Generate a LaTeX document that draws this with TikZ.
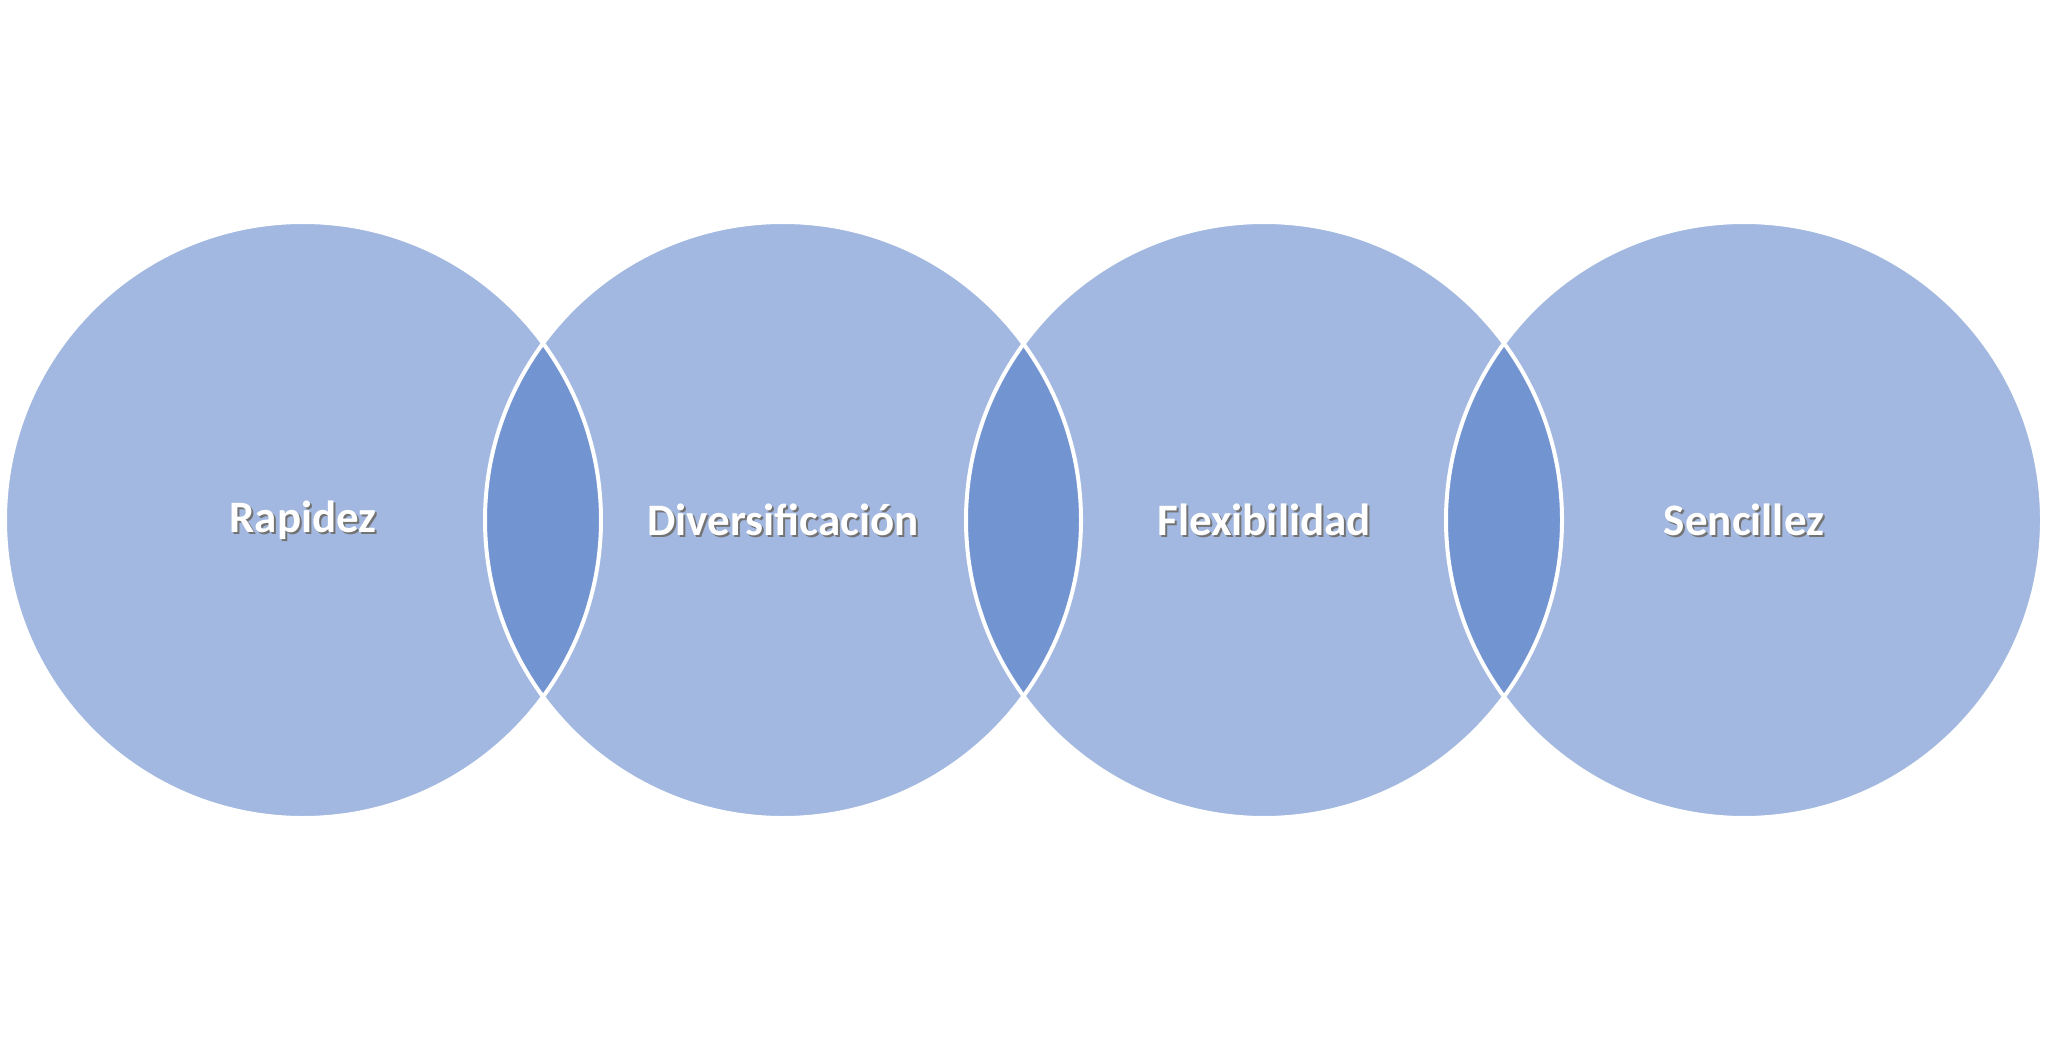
\documentclass[tikz,border=0pt]{standalone}
\usepackage{fontspec}
\setmainfont{Carlito}
\definecolor{light}{HTML}{A2B8E0}
\definecolor{dark}{HTML}{7294D0}
\begin{document}
\begin{tikzpicture}[x=1pt,y=-1pt,
  circ/.style={circle,minimum size=596pt,inner sep=0pt},
  lbl/.style={font=\bfseries\fontsize{45}{54}\selectfont,text=white},
  shd/.style={font=\bfseries\fontsize{45}{54}\selectfont,text=black!55}]
\useasboundingbox (0,0) rectangle (2048,1040);
\foreach \n/\x in {a/303,b/783,c/1264,d/1744}{
  \node[circ,fill=light] (\n) at (\x,520) {};
}
\foreach \p/\q in {303/783,783/1264,1264/1744}{
  \begin{scope}
    \clip (\p,520) circle (298);
    \fill[dark] (\q,520) circle (298);
  \end{scope}
}
\foreach \n in {a,b,c,d}{
  \draw[white,line width=4pt] (\n) circle (298);
}
\foreach \n/\t in {a/Rapidez,b/Diversificación,c/Flexibilidad,d/Sencillez}{
  \node[shd] at ([xshift=2pt,yshift=-2pt]\n.center) {\t};
  \node[lbl] (t\n) at (\n.center) {\t};
}
\end{tikzpicture}
\end{document}
